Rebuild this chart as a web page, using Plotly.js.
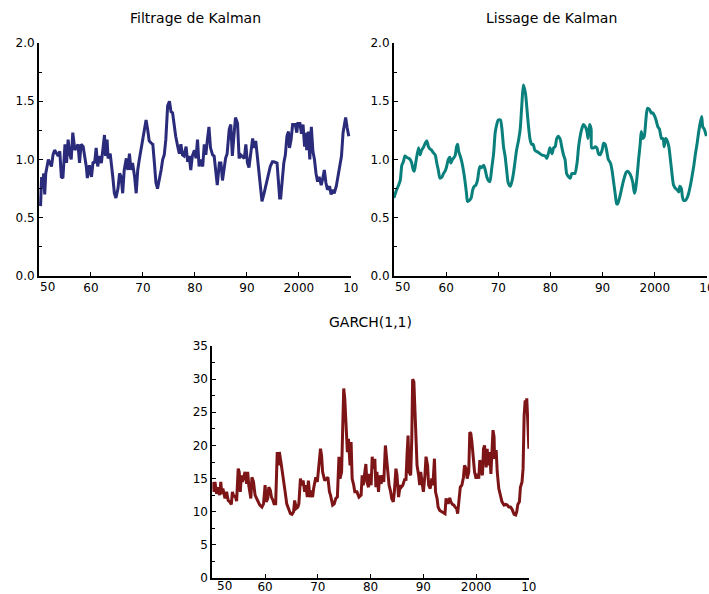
<!DOCTYPE html>
<html>
<head>
<meta charset="utf-8">
<script src="https://cdn.plot.ly/plotly-3.0.1.min.js"></script>
<style>
html,body{margin:0;padding:0;background:#fff;}
#chart{width:709px;height:594px;}
</style>
</head>
<body>
<div id="chart"></div>
<script>
// ---- Data ----
const filtYears = [1950.3,1950.5,1950.7,1950.9,1951.1,1951.3,1951.8,1952.4,1952.7,1953.0,1953.7,1954.0,1954.3,1954.6,1955.0,1955.3,1955.6,1955.9,1956.2,1956.5,1956.9,1957.5,1957.8,1958.1,1958.5,1958.8,1959.1,1959.3,1959.7,1960.1,1960.4,1960.7,1961.0,1961.3,1961.6,1962.0,1962.3,1962.6,1962.8,1963.1,1963.3,1963.7,1964.2,1964.5,1964.8,1965.2,1965.5,1965.8,1966.1,1966.4,1966.8,1967.1,1967.4,1967.7,1968.0,1968.4,1968.7,1969.0,1969.3,1969.6,1969.9,1970.3,1970.6,1970.9,1971.2,1971.6,1971.9,1972.2,1972.5,1972.8,1973.1,1973.5,1973.8,1974.1,1974.4,1974.75,1975.1,1975.4,1975.7,1976.0,1976.3,1976.7,1977.0,1977.3,1977.6,1977.9,1978.3,1978.6,1978.9,1979.2,1979.5,1979.9,1980.2,1980.5,1980.8,1981.1,1981.5,1981.8,1982.1,1982.4,1982.7,1983.0,1983.4,1983.7,1984.0,1984.3,1984.7,1985.0,1985.3,1985.6,1985.9,1986.2,1986.6,1986.9,1987.2,1987.5,1987.8,1988.2,1988.5,1988.8,1989.5,1989.8,1990.1,1990.4,1990.7,1991.1,1991.4,1991.7,1992.0,1992.3,1992.6,1992.9,1993.3,1993.6,1993.9,1994.2,1994.5,1994.9,1995.2,1995.8,1996.1,1996.3,1996.5,1996.8,1997.1,1997.4,1997.7,1998.0,1998.2,1998.5,1998.8,1999.3,1999.6,1999.8,2000.2,2000.5,2000.8,2001.1,2001.4,2001.5,2001.8,2002.1,2002.4,2002.7,2003.0,2003.3,2003.6,2003.9,2004.3,2004.6,2004.9,2005.2,2005.5,2005.9,2006.2,2006.5,2006.8,2007.2,2007.5,2007.9,2008.2,2008.5,2009.0,2009.3,2009.6,2009.9];
const filtValues = [0.60,0.85,0.75,0.88,0.70,0.88,1.00,0.94,1.04,1.08,1.03,1.07,0.85,0.84,1.13,0.97,1.17,1.05,1.00,1.23,1.08,1.13,0.97,1.13,1.11,1.04,0.94,0.84,0.95,0.85,0.98,0.97,1.10,0.94,1.03,0.97,1.08,1.21,1.03,1.17,1.01,1.05,0.85,0.71,0.67,0.75,0.88,0.85,0.71,0.91,1.01,0.91,1.05,0.91,0.97,0.85,0.71,0.91,1.00,1.08,1.14,1.26,1.34,1.26,1.16,1.14,1.13,0.97,0.80,0.75,0.81,0.91,1.00,1.04,1.17,1.46,1.50,1.41,1.40,1.28,1.20,1.11,1.05,1.13,1.04,1.03,1.11,0.98,1.03,0.91,1.03,1.08,1.01,1.17,0.94,1.00,0.94,1.13,1.04,1.17,1.28,1.10,1.04,1.03,0.88,0.78,0.97,0.97,0.82,0.91,1.01,1.05,1.26,1.30,1.03,1.20,1.36,1.31,1.01,1.04,1.01,1.13,0.97,0.93,1.05,1.18,1.10,1.16,1.03,0.90,0.80,0.64,0.71,0.77,0.82,0.88,0.94,0.98,0.98,0.97,0.77,0.67,0.67,0.82,0.97,1.04,1.20,1.24,1.10,1.17,1.30,1.30,1.23,1.31,1.31,1.22,1.30,1.11,1.23,1.08,1.24,1.00,1.28,1.07,1.00,0.88,0.81,0.85,0.78,0.84,0.91,0.80,0.74,0.77,0.70,0.74,0.71,0.77,0.85,0.93,1.03,1.23,1.36,1.27,1.20];

const smoothYears = [1950.0,1950.5,1950.8,1951.2,1951.5,1951.8,1952.1,1952.4,1952.8,1953.1,1953.4,1953.7,1953.9,1954.2,1954.7,1955.0,1955.3,1955.6,1956.0,1956.3,1956.6,1956.9,1957.2,1957.5,1957.9,1958.2,1958.5,1958.8,1959.2,1959.5,1959.8,1960.1,1960.4,1960.7,1960.9,1961.2,1961.7,1962.0,1962.2,1962.4,1962.7,1963.0,1963.3,1963.6,1963.9,1964.1,1964.5,1964.8,1965.1,1965.4,1965.7,1966.0,1966.3,1966.5,1966.8,1967.2,1967.5,1967.8,1968.1,1968.4,1968.7,1969.1,1969.4,1969.7,1970.0,1970.4,1970.7,1971.0,1971.3,1971.6,1971.9,1972.3,1972.6,1972.9,1973.2,1973.5,1973.9,1974.2,1974.5,1974.8,1975.2,1975.5,1975.8,1976.1,1976.4,1976.7,1977.0,1977.7,1978.3,1979.0,1979.3,1979.6,1979.9,1980.3,1980.6,1980.9,1981.2,1981.5,1981.9,1982.2,1982.5,1982.8,1983.1,1983.5,1983.8,1984.1,1984.4,1984.7,1985.1,1985.4,1985.7,1986.0,1986.3,1986.7,1987.0,1987.2,1987.5,1987.8,1987.9,1988.3,1988.6,1988.9,1989.2,1989.5,1989.9,1990.2,1990.5,1990.8,1991.1,1991.5,1991.8,1992.1,1992.4,1992.7,1992.9,1993.3,1993.6,1993.9,1994.2,1994.5,1994.8,1995.2,1995.5,1995.8,1996.1,1996.3,1996.6,1996.9,1997.2,1997.4,1997.7,1998.0,1998.3,1998.6,1999.0,1999.3,1999.6,2000.0,2000.3,2000.6,2000.9,2001.3,2001.6,2001.8,2002.1,2002.3,2002.7,2003.0,2003.3,2003.6,2004.0,2004.3,2004.6,2004.8,2005.1,2005.3,2005.5,2005.9,2006.2,2006.5,2006.8,2007.2,2007.5,2007.8,2008.1,2008.4,2008.7,2009.0,2009.2,2009.5,2009.9];
const smoothValues = [0.67,0.74,0.77,0.82,0.95,0.98,1.03,1.02,1.01,1.00,0.97,0.91,0.90,0.98,1.10,1.04,1.08,1.10,1.14,1.16,1.11,1.09,1.08,1.06,1.04,0.97,0.91,0.84,0.85,0.88,0.90,0.94,1.00,1.02,0.97,1.00,1.03,1.11,1.13,1.07,1.03,0.98,0.91,0.82,0.71,0.64,0.65,0.67,0.74,0.77,0.78,0.82,0.91,0.94,0.93,0.95,0.91,0.85,0.82,0.81,0.91,1.05,1.23,1.30,1.34,1.34,1.26,1.11,1.03,0.91,0.80,0.77,0.81,0.88,0.98,1.08,1.17,1.26,1.46,1.64,1.57,1.43,1.28,1.17,1.13,1.13,1.08,1.06,1.04,1.03,1.01,1.05,1.10,1.05,1.10,1.11,1.18,1.20,1.17,1.10,1.04,1.00,0.88,0.85,0.84,0.88,0.88,0.88,0.97,1.11,1.20,1.26,1.30,1.28,1.24,1.18,1.30,1.26,1.10,1.10,1.11,1.10,1.05,1.04,1.08,1.14,1.13,1.07,1.00,0.97,0.91,0.81,0.71,0.62,0.62,0.68,0.74,0.80,0.85,0.89,0.90,0.88,0.85,0.80,0.71,0.74,0.85,1.00,1.13,1.24,1.18,1.20,1.34,1.44,1.43,1.40,1.40,1.37,1.33,1.28,1.26,1.18,1.18,1.11,1.18,1.17,1.11,1.00,0.88,0.78,0.75,0.74,0.72,0.77,0.75,0.68,0.65,0.65,0.67,0.71,0.77,0.87,0.95,1.05,1.13,1.23,1.31,1.37,1.28,1.26,1.20];

const garchYears = [1950.1,1950.3,1950.5,1950.8,1951.1,1951.4,1951.6,1951.8,1952.0,1952.4,1952.7,1953.0,1953.3,1953.6,1953.8,1954.1,1954.3,1954.6,1954.9,1955.1,1955.3,1955.5,1955.7,1956.0,1956.2,1956.5,1956.7,1956.9,1957.3,1957.5,1957.8,1958.1,1958.4,1958.7,1959.0,1959.4,1959.7,1960.0,1960.2,1960.5,1960.7,1961.0,1961.2,1961.5,1961.7,1962.0,1962.3,1962.5,1962.7,1963.0,1963.3,1963.5,1963.8,1964.1,1964.5,1964.8,1965.1,1965.4,1965.6,1965.9,1966.2,1966.4,1966.7,1966.9,1967.2,1967.5,1967.7,1968.0,1968.2,1968.5,1968.7,1969.0,1969.2,1969.6,1969.9,1970.2,1970.5,1970.7,1970.9,1971.3,1971.6,1971.9,1972.2,1972.4,1972.8,1973.1,1973.4,1973.7,1974.0,1974.2,1974.5,1974.7,1974.9,1975.1,1975.4,1975.6,1975.8,1976.1,1976.3,1976.5,1976.8,1977.0,1977.4,1977.8,1978.2,1978.4,1978.6,1978.9,1979.1,1979.3,1979.6,1979.8,1980.1,1980.3,1980.5,1980.8,1981.0,1981.2,1981.5,1981.7,1982.0,1982.2,1982.5,1982.8,1983.0,1983.3,1983.5,1983.8,1984.0,1984.3,1984.5,1984.8,1985.0,1985.3,1985.6,1985.8,1986.1,1986.5,1986.7,1986.9,1987.1,1987.3,1987.6,1987.8,1987.97,1988.2,1988.4,1988.6,1988.8,1989.1,1989.3,1989.5,1989.8,1990.0,1990.3,1990.5,1990.8,1991.0,1991.3,1991.6,1991.8,1992.1,1992.3,1992.6,1992.8,1993.1,1993.5,1993.8,1994.1,1994.3,1994.5,1994.7,1995.0,1995.2,1995.5,1995.8,1996.0,1996.3,1996.5,1996.8,1997.0,1997.3,1997.6,1997.8,1998.1,1998.3,1998.6,1998.8,1999.0,1999.2,1999.5,1999.7,2000.0,2000.2,2000.5,2000.7,2001.0,2001.2,2001.4,2001.6,2001.9,2002.1,2002.3,2002.6,2002.8,2003.0,2003.2,2003.4,2003.5,2003.8,2004.0,2004.3,2004.6,2004.9,2005.3,2005.6,2005.9,2006.2,2006.5,2006.8,2007.2,2007.5,2007.7,2007.9,2008.2,2008.4,2008.7,2008.9,2009.1,2009.3,2009.5,2009.6,2009.8,2010.0];
const garchValues = [14.5,13.0,14.5,12.7,13.7,12.5,14.5,12.7,13.5,12.0,13.0,11.7,11.5,11.1,13.0,12.2,12.5,11.6,16.5,16.0,13.0,15.5,14.5,15.5,16.0,14.2,16.0,14.0,12.0,15.2,14.5,12.5,12.0,11.5,11.0,10.7,11.2,14.0,11.5,12.0,13.7,13.2,12.2,11.7,11.2,11.2,19.0,17.0,19.0,17.5,16.0,14.5,13.0,11.2,10.2,9.7,9.6,10.0,11.7,10.5,10.7,11.2,15.0,14.0,14.7,13.0,14.0,12.2,14.7,12.2,13.2,12.2,13.5,15.2,14.5,17.2,19.5,18.5,16.0,14.7,15.0,15.2,13.0,12.5,11.0,11.2,12.0,12.2,18.3,15.0,16.0,22.0,28.6,27.1,22.0,19.0,21.0,17.0,20.5,15.0,14.0,13.0,13.0,12.2,12.5,15.5,14.0,16.0,17.2,14.5,13.7,15.7,14.0,18.3,16.5,18.0,13.7,16.0,13.0,15.5,14.2,15.5,14.5,20.0,18.0,16.2,14.0,13.0,12.0,11.5,13.0,16.5,15.5,12.2,14.0,13.7,14.0,15.0,14.7,18.5,21.5,16.0,15.5,21.0,30.0,29.6,24.5,21.0,17.0,15.5,14.0,16.0,14.2,13.0,15.5,18.3,17.0,14.0,13.5,15.0,14.0,18.0,13.0,12.0,10.7,10.2,10.0,9.9,9.7,12.0,11.5,11.2,12.1,11.5,11.1,11.0,10.7,10.5,9.7,12.2,13.7,14.0,15.2,17.0,16.5,15.0,16.0,22.0,21.8,20.5,18.0,16.0,15.0,15.7,15.0,17.8,16.0,15.5,19.5,20.0,16.7,19.5,17.0,19.0,15.7,20.0,22.3,21.3,18.0,19.3,16.0,13.5,12.2,11.5,11.0,11.1,11.0,10.7,10.7,10.4,9.6,9.5,10.0,11.1,11.5,13.7,14.5,16.5,24.5,26.8,26.0,27.1,23.5,19.5];

const xTickVals = [1950,1960,1970,1980,1990,2000,2010];
const xTickText = ["50","60","70","80","90","2000","10"];
const panelTitles = ["Filtrage de Kalman","Lissage de Kalman","GARCH(1,1)"];
const colors = ["#2b2b7b","#0a807c","#7d1517"];

// ---- Layout ----
const tickFont = {family:"DejaVu Sans, Arial, sans-serif", size:12, color:"#000"};
// first label ("50") is drawn shifted right of the axis corner, as in the reference
const axisTickText = [""].concat(xTickText.slice(1));
function xAxis(domain, anchor, standoff){
  return {domain:domain, anchor:anchor, range:[1950,2010.02], tickvals:xTickVals, ticktext:axisTickText,
    ticks:"inside", ticklen:4, tickwidth:1, tickcolor:"#000", showline:true, linecolor:"#000", linewidth:2,
    showgrid:false, zeroline:false, tickfont:tickFont, fixedrange:true,
    ticklabeloverflow:"allow", ticklabelstandoff:standoff};
}
function yAxis(domain, anchor, range, dtick, minor, fmt){
  return {domain:domain, anchor:anchor, range:range, dtick:dtick, tick0:0, tickformat:fmt,
    ticks:"inside", ticklen:4, tickwidth:1, tickcolor:"#000", showline:true, linecolor:"#000", linewidth:2,
    minor:{dtick:minor, ticks:"inside", ticklen:3, tickcolor:"#000", tickwidth:1, showgrid:false},
    showgrid:false, zeroline:false, tickfont:tickFont, fixedrange:true};
}

const topDom = [0.5354, 0.9276];
const botDom = [0.0269, 0.4175];

const traces = [
  {x:filtYears, y:filtValues, xaxis:"x", yaxis:"y", type:"scatter", mode:"lines",
   line:{color:colors[0], width:3}},
  {x:smoothYears, y:smoothValues, xaxis:"x2", yaxis:"y2", type:"scatter", mode:"lines",
   line:{color:colors[1], width:3, shape:"spline", smoothing:0.6}},
  {x:garchYears, y:garchValues, xaxis:"x3", yaxis:"y3", type:"scatter", mode:"lines",
   line:{color:colors[2], width:3}}
];

const titleFont = {family:"DejaVu Sans, Arial, sans-serif", size:14, color:"#000"};
function firstLabel(xr, yr, xs, ys){
  return {text:xTickText[0], xref:xr, yref:yr, x:xTickVals[0], y:0, xanchor:"center", yanchor:"top",
    xshift:xs, yshift:ys, showarrow:false, font:tickFont};
}
const layout = {
  width:709, height:594, margin:{l:0,r:0,t:0,b:0},
  paper_bgcolor:"#fff", plot_bgcolor:"#fff", showlegend:false,
  xaxis: xAxis([0.055,0.495],"y",0),
  yaxis: yAxis(topDom,"x",[0,2],0.5,0.25,".1f"),
  xaxis2: xAxis([0.5557,0.9972],"y2",0),
  yaxis2: yAxis(topDom,"x2",[0,2],0.5,0.25,".1f"),
  xaxis3: xAxis([0.2995,0.7461],"y3",-3),
  yaxis3: yAxis(botDom,"x3",[0,35],5,2.5,"d"),
  annotations:[
    {text:panelTitles[0], xref:"paper", yref:"paper", x:195/709, y:1-18/594, showarrow:false, font:titleFont, xanchor:"center", yanchor:"middle"},
    {text:panelTitles[1], xref:"paper", yref:"paper", x:551/709, y:1-18/594, showarrow:false, font:titleFont, xanchor:"center", yanchor:"middle"},
    {text:panelTitles[2], xref:"paper", yref:"paper", x:370/709, y:1-322/594, showarrow:false, font:titleFont, xanchor:"center", yanchor:"middle"},
    firstLabel("x","y",9,-2),
    firstLabel("x2","y2",9,-2),
    firstLabel("x3","y3",12,1)
  ]
};

Plotly.newPlot("chart", traces, layout, {displayModeBar:false, staticPlot:true});
</script>
</body>
</html>
